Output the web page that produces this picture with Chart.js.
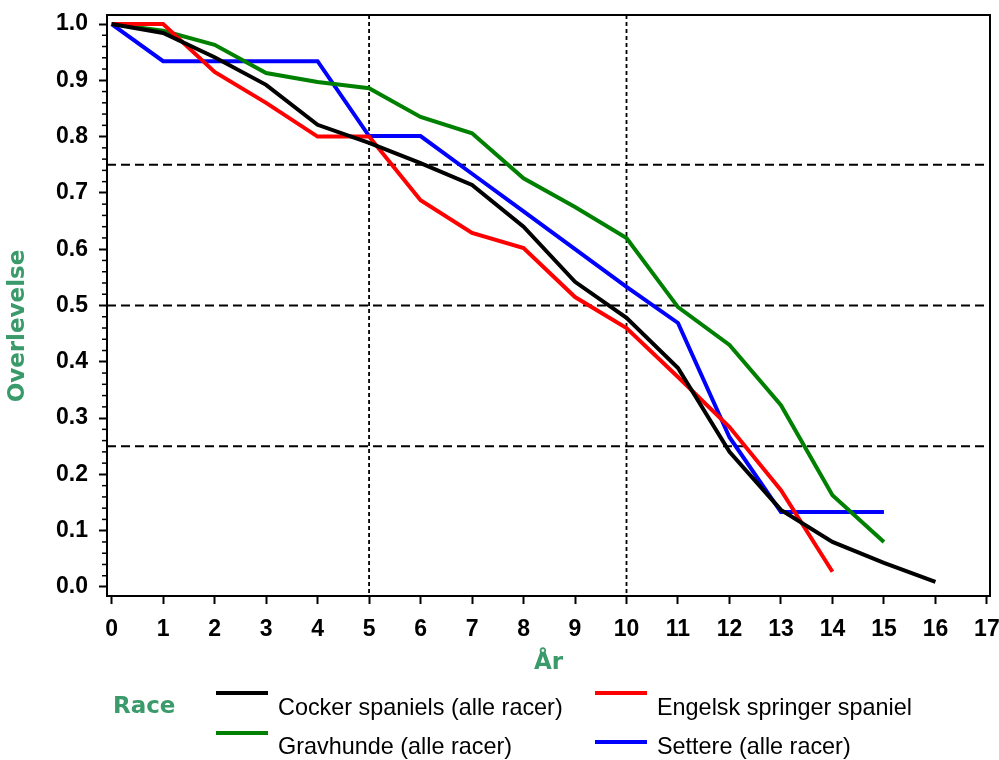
<!DOCTYPE html>
<html>
<head>
<meta charset="utf-8">
<title>Overlevelse</title>
<script src="https://cdn.jsdelivr.net/npm/chart.js@4.4.1/dist/chart.umd.min.js"></script>
<style>
  html, body { margin: 0; padding: 0; background: #fff; }
  canvas { display: block; }
</style>
</head>
<body>
<canvas id="chart" width="999" height="760"></canvas>
<script>
// ── Data ──
const years     = [0, 1, 2, 3, 4, 5, 6, 7, 8, 9, 10, 11, 12, 13, 14, 15, 16];
const cocker    = [1.0, 0.984, 0.941, 0.892, 0.821, 0.789, 0.753, 0.714, 0.640, 0.542, 0.478, 0.389, 0.240, 0.137, 0.080, 0.043, 0.009];
const springer  = [1.0, 1.0, 0.915, 0.860, 0.800, 0.800, 0.687, 0.629, 0.602, 0.515, 0.460, 0.373, 0.284, 0.172, 0.027];
const gravhunde = [1.0, 0.988, 0.963, 0.913, 0.897, 0.886, 0.835, 0.806, 0.726, 0.675, 0.620, 0.497, 0.430, 0.323, 0.163, 0.080];
const settere   = [1.0, 0.934, 0.934, 0.934, 0.934, 0.801, 0.801, 0.734, 0.667, 0.600, 0.533, 0.469, 0.266, 0.133, 0.133, 0.133];

const seriesNames = ["Cocker spaniels (alle racer)", "Engelsk springer spaniel", "Gravhunde (alle racer)", "Settere (alle racer)"];
const refLinesY = [0.25, 0.5, 0.75];
const refLinesX = [5, 10];

const COLORS = {
  cocker:   "#000000",
  springer: "#ff0000",
  grav:     "#008000",
  settere:  "#0000ff",
  title:    "#3a9a6a",
  axis:     "#000000"
};

const TICK_FONT   = { family: "'Liberation Sans', Arial, sans-serif", size: 23, weight: "bold" };
const TITLE_FONT  = "bold 23px 'DejaVu Sans', Verdana, sans-serif";
const LEGEND_FONT = "23.4px 'Liberation Sans', Arial, sans-serif";

const pts = vals => vals.map((v, i) => ({ x: years[i], y: v }));

// ── Legend slots (line sample / label positions) ──
const legendSlots = [
  { lx: 216, ly: 693, tx: 278, ty: 715 },  // Cocker
  { lx: 595, ly: 693, tx: 657, ty: 715 },  // Engelsk
  { lx: 216, ly: 733, tx: 278, ty: 754 },  // Gravhunde
  { lx: 595, ly: 742, tx: 657, ty: 754 },  // Settere
];

const decor = {
  id: "decor",
  beforeDatasetsDraw(chart) {
    const { ctx, chartArea: a, scales: { x, y } } = chart;
    ctx.save();
    ctx.strokeStyle = "#000";
    ctx.lineWidth = 2;
    ctx.setLineDash([9, 5]);
    refLinesY.forEach(v => {
      const p = y.getPixelForValue(v);
      ctx.beginPath(); ctx.moveTo(a.left, p); ctx.lineTo(a.right, p); ctx.stroke();
    });
    ctx.lineWidth = 1.8;
    ctx.setLineDash([4, 3]);
    refLinesX.forEach(v => {
      const p = x.getPixelForValue(v);
      ctx.beginPath(); ctx.moveTo(p, a.top); ctx.lineTo(p, a.bottom); ctx.stroke();
    });
    ctx.restore();
  },
  afterDraw(chart) {
    const { ctx, chartArea: a, scales: { y } } = chart;
    ctx.save();
    // top + right frame
    ctx.strokeStyle = "#000";
    ctx.lineWidth = 2;
    ctx.beginPath();
    ctx.moveTo(a.left - 1, a.top); ctx.lineTo(a.right, a.top); ctx.lineTo(a.right, a.bottom + 1);
    ctx.stroke();

    // minor y ticks every 0.02
    ctx.lineWidth = 1.5;
    for (let k = 1; k < 50; k++) {
      if (k % 5 === 0) continue;
      const p = y.getPixelForValue(k / 50);
      ctx.beginPath(); ctx.moveTo(a.left - 5, p); ctx.lineTo(a.left, p); ctx.stroke();
    }

    // y axis title
    ctx.fillStyle = COLORS.title;
    ctx.font = TITLE_FONT;
    ctx.textAlign = "center";
    ctx.textBaseline = "middle";
    ctx.translate(18, 326);
    ctx.rotate(-Math.PI / 2);
    ctx.fillText("Overlevelse", 0, 0);
    ctx.restore();

    // legend
    ctx.save();
    ctx.fillStyle = COLORS.title;
    ctx.font = TITLE_FONT;
    ctx.textBaseline = "alphabetic";
    ctx.fillText("Race", 113, 713);
    ctx.font = LEGEND_FONT;
    chart.data.datasets.forEach((ds, i) => {
      const s = legendSlots[i];
      ctx.strokeStyle = ds.borderColor;
      ctx.lineWidth = 4;
      ctx.beginPath(); ctx.moveTo(s.lx, s.ly); ctx.lineTo(s.lx + 52, s.ly); ctx.stroke();
      ctx.fillStyle = "#000";
      ctx.fillText(ds.label, s.tx, s.ty);
    });
    ctx.restore();
  }
};

const line = (label, color, vals) => ({
  label, data: pts(vals), borderColor: color, backgroundColor: color,
  borderWidth: 4, pointRadius: 0, tension: 0, fill: false
});

// keep the plot box exactly where the layout padding puts it
const noPad = s => { s.paddingTop = 0; s.paddingBottom = 0; s.paddingLeft = 0; s.paddingRight = 0; };

new Chart(document.getElementById("chart"), {
  type: "line",
  data: {
    datasets: [
      line(seriesNames[0], COLORS.cocker,   cocker),
      line(seriesNames[1], COLORS.springer, springer),
      line(seriesNames[2], COLORS.grav,     gravhunde),
      line(seriesNames[3], COLORS.settere,  settere),
    ]
  },
  options: {
    responsive: false,
    animation: false,
    layout: { padding: { top: 15, right: 9, bottom: 80, left: 0 } },
    plugins: { legend: { display: false }, tooltip: { enabled: false } },
    scales: {
      x: {
        type: "linear",
        min: -0.09, max: 17.06,
        afterFit: s => { s.height = 84; noPad(s); },
        border: { color: COLORS.axis, width: 2 },
        grid: { drawOnChartArea: false, drawTicks: true, tickLength: 8, tickColor: "#000", tickWidth: 2 },
        ticks: {
          stepSize: 1, includeBounds: false, autoSkip: false, maxRotation: 0,
          color: "#000", font: TICK_FONT, padding: 12,
          callback: v => String(v)
        },
        title: {
          display: true, text: "År", color: COLORS.title,
          font: { family: "'DejaVu Sans', Verdana, sans-serif", size: 23, weight: "bold" },
          padding: { top: 0, bottom: 3 }
        }
      },
      y: {
        min: -0.016, max: 1.016,
        afterFit: s => { s.width = 107; noPad(s); },
        border: { color: COLORS.axis, width: 2 },
        grid: { drawOnChartArea: false, drawTicks: true, tickLength: 8, tickColor: "#000", tickWidth: 2 },
        ticks: {
          stepSize: 0.1, includeBounds: false, autoSkip: false,
          color: "#000", font: TICK_FONT, padding: 11,
          callback: v => v.toFixed(1)
        }
      }
    }
  },
  plugins: [decor]
});
</script>
</body>
</html>
